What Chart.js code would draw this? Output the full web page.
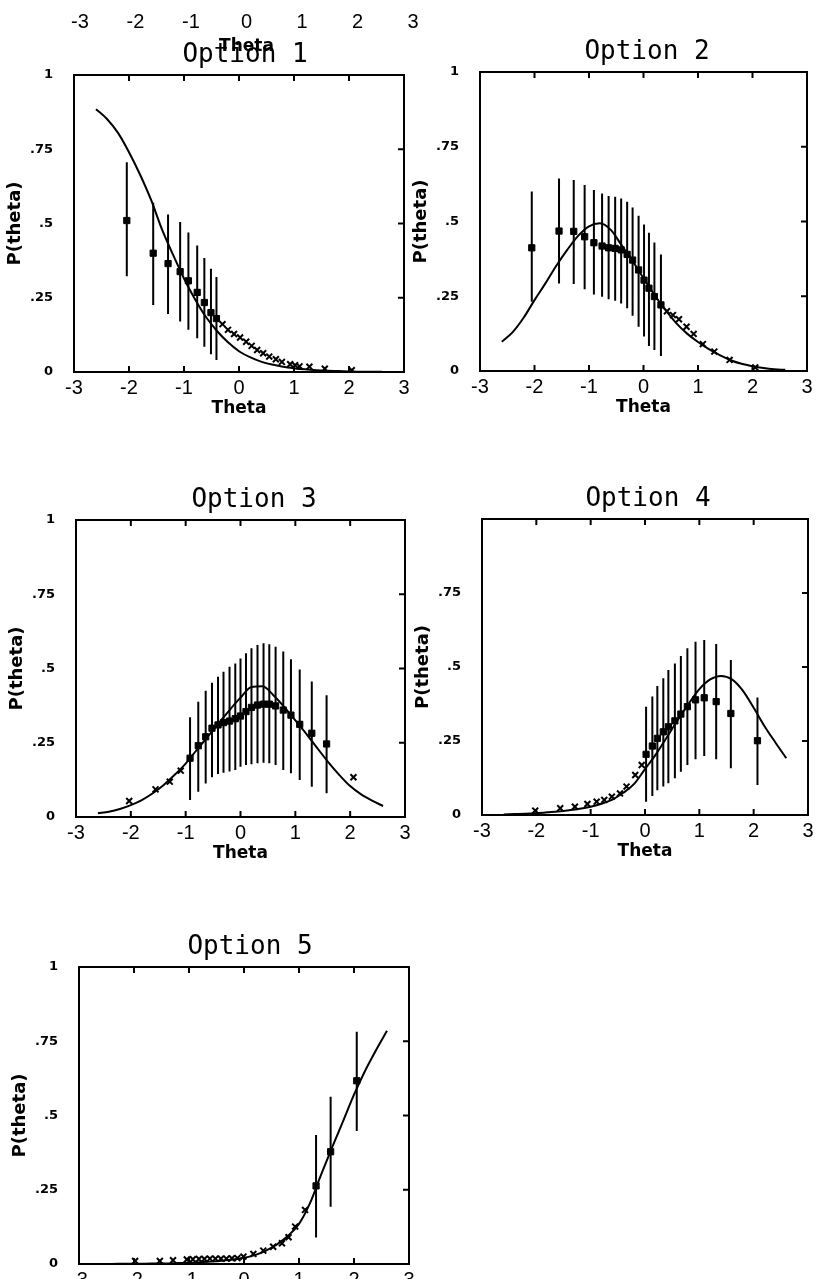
<!DOCTYPE html>
<html>
<head>
<meta charset="utf-8">
<script src="https://cdn.jsdelivr.net/npm/chart.js@4.4.1/dist/chart.umd.min.js"></script>
<style>
  html, body { margin: 0; padding: 0; background: #fff; }
  body { position: relative; width: 819px; height: 1279px; overflow: hidden; }
  canvas { position: absolute; }
</style>
</head>
<body>
<script>
// --- data ---
const thetaGrid = [-2.6, -2.4, -2.2, -2.0, -1.8, -1.6, -1.4, -1.2, -1.0, -0.8, -0.6, -0.4, -0.2, 0,
                   0.2, 0.4, 0.6, 0.8, 1.0, 1.2, 1.4, 1.6, 1.8, 2.0, 2.2, 2.4, 2.6];
const xTickValues = [-3, -2, -1, 0, 1, 2, 3];
const yTickValues = [0, 0.25, 0.5, 0.75, 1];
const yTickLabels = ['0', '.25', '.5', '.75', '1'];
const yTickLabelsNoTop = ['0', '.25', '.5', '.75', ''];

// Option 1
const curve1 = [0.885, 0.852, 0.805, 0.74, 0.665, 0.58, 0.48, 0.395, 0.315, 0.245, 0.185, 0.138, 0.1, 0.07,
                0.05, 0.035, 0.025, 0.018, 0.013, 0.009, 0.006, 0.004, 0.003, 0.002, 0.001, 0.001, 0.001];
const bar1Theta = [-2.04, -1.56, -1.29, -1.07, -0.92, -0.76, -0.63, -0.51, -0.41];
const bar1P  = [0.51, 0.40, 0.365, 0.338, 0.307, 0.268, 0.234, 0.20, 0.18];
const bar1Lo = [0.322, 0.226, 0.195, 0.17, 0.142, 0.114, 0.085, 0.06, 0.04];
const bar1Hi = [0.706, 0.57, 0.53, 0.505, 0.47, 0.426, 0.384, 0.348, 0.32];
const dot1Theta = [-0.30, -0.20, -0.09, 0.02, 0.13, 0.23, 0.33, 0.44, 0.55, 0.67, 0.78, 0.93, 1.02, 1.10, 1.28, 1.56, 2.05];
const dot1P = [0.161, 0.142, 0.128, 0.116, 0.102, 0.088, 0.074, 0.063, 0.052, 0.043, 0.034, 0.026, 0.023, 0.019, 0.018, 0.011, 0.006];

// Option 2
const curve2 = [0.098, 0.13, 0.178, 0.237, 0.293, 0.352, 0.405, 0.452, 0.484, 0.494, 0.472, 0.42, 0.368, 0.31,
                0.255, 0.205, 0.16, 0.125, 0.097, 0.073, 0.053, 0.036, 0.024, 0.016, 0.01, 0.006, 0.004];
const bar2Theta = [-2.05, -1.55, -1.28, -1.08, -0.91, -0.76, -0.64, -0.52, -0.41, -0.30, -0.20, -0.09, 0.01, 0.10, 0.20, 0.32];
const bar2P  = [0.412, 0.468, 0.467, 0.449, 0.429, 0.418, 0.412, 0.41, 0.405, 0.39, 0.371, 0.338, 0.304, 0.277, 0.249, 0.221];
const bar2Lo = [0.232, 0.293, 0.291, 0.273, 0.256, 0.248, 0.24, 0.235, 0.226, 0.21, 0.185, 0.148, 0.115, 0.084, 0.07, 0.05];
const bar2Hi = [0.60, 0.644, 0.639, 0.622, 0.605, 0.594, 0.585, 0.583, 0.577, 0.566, 0.547, 0.519, 0.49, 0.462, 0.43, 0.39];
const dot2Theta = [0.43, 0.54, 0.65, 0.79, 0.92, 1.09, 1.30, 1.58, 2.05];
const dot2P = [0.20, 0.187, 0.173, 0.148, 0.124, 0.09, 0.065, 0.037, 0.012];

// Option 3
const curve3 = [0.013, 0.018, 0.027, 0.04, 0.057, 0.08, 0.108, 0.142, 0.18, 0.225, 0.27, 0.315, 0.36, 0.402,
                0.438, 0.44, 0.41, 0.37, 0.325, 0.28, 0.232, 0.185, 0.142, 0.104, 0.076, 0.055, 0.037];
const bar3Theta = [-0.92, -0.77, -0.635, -0.52, -0.41, -0.31, -0.20, -0.095, 0.0, 0.10, 0.20, 0.31, 0.42, 0.525,
                   0.64, 0.78, 0.92, 1.08, 1.30, 1.57];
const bar3P  = [0.198, 0.24, 0.27, 0.299, 0.31, 0.318, 0.323, 0.331, 0.34, 0.355, 0.369, 0.377, 0.38, 0.38,
                0.374, 0.36, 0.343, 0.312, 0.282, 0.246];
const bar3Lo = [0.057, 0.085, 0.113, 0.134, 0.145, 0.149, 0.153, 0.158, 0.169, 0.175, 0.178, 0.181, 0.183, 0.181,
                0.175, 0.158, 0.147, 0.125, 0.102, 0.08];
const bar3Hi = [0.336, 0.388, 0.425, 0.452, 0.472, 0.489, 0.506, 0.517, 0.534, 0.551, 0.568, 0.579, 0.585, 0.582,
                0.573, 0.557, 0.531, 0.497, 0.456, 0.41];
const dot3Theta = [-2.03, -1.55, -1.29, -1.09, 2.06];
const dot3P = [0.054, 0.093, 0.119, 0.156, 0.134];

// Option 4
const curve4 = [0.002, 0.003, 0.004, 0.006, 0.009, 0.012, 0.016, 0.021, 0.028, 0.038, 0.052, 0.075, 0.105, 0.155,
                0.205, 0.262, 0.32, 0.375, 0.425, 0.458, 0.47, 0.458, 0.42, 0.362, 0.30, 0.245, 0.192];
const bar4Theta = [0.02, 0.135, 0.227, 0.337, 0.43, 0.55, 0.66, 0.78, 0.93, 1.09, 1.31, 1.58, 2.07];
const bar4P  = [0.205, 0.233, 0.259, 0.281, 0.298, 0.318, 0.341, 0.366, 0.389, 0.396, 0.383, 0.343, 0.251];
const bar4Lo = [0.045, 0.064, 0.084, 0.096, 0.107, 0.124, 0.146, 0.169, 0.188, 0.199, 0.188, 0.158, 0.101];
const bar4Hi = [0.366, 0.40, 0.436, 0.462, 0.49, 0.512, 0.537, 0.563, 0.585, 0.591, 0.578, 0.524, 0.397];
const dot4Theta = [-2.02, -1.56, -1.29, -1.06, -0.89, -0.75, -0.61, -0.46, -0.34, -0.18, -0.06];
const dot4P = [0.015, 0.023, 0.028, 0.037, 0.045, 0.051, 0.062, 0.073, 0.096, 0.135, 0.169];

// Option 5
const curve5 = [0.0, 0.0, 0.001, 0.001, 0.001, 0.002, 0.002, 0.003, 0.004, 0.006, 0.008, 0.011, 0.015, 0.021,
                0.03, 0.045, 0.066, 0.095, 0.135, 0.205, 0.30, 0.392, 0.48, 0.57, 0.65, 0.72, 0.785];
const bar5Theta = [1.31, 1.575, 2.05];
const bar5P  = [0.263, 0.378, 0.617];
const bar5Lo = [0.089, 0.193, 0.448];
const bar5Hi = [0.434, 0.563, 0.782];
const dot5Theta = [-1.98, -1.53, -1.29, -1.04, -0.93, -0.82, -0.72, -0.62, -0.52, -0.42, -0.32, -0.22, -0.12,
                   -0.01, 0.17, 0.35, 0.53, 0.69, 0.81, 0.93, 1.11];
const dot5P = [0.01, 0.01, 0.013, 0.015, 0.016, 0.017, 0.017, 0.018, 0.018, 0.018, 0.018, 0.019, 0.02,
               0.025, 0.034, 0.045, 0.058, 0.07, 0.09, 0.126, 0.182];

// --- layout (plot box left, top, right, bottom; title centre) ---
const panels = [
  { title: 'Option 1', box: [74, 75, 404, 372],   titleX: 245, yLabels: yTickLabels,
    curve: curve1, bx: bar1Theta, by: bar1P, lo: bar1Lo, hi: bar1Hi, dx: dot1Theta, dy: dot1P },
  { title: 'Option 2', box: [480, 72, 807, 371],  titleX: 647, yLabels: yTickLabels,
    curve: curve2, bx: bar2Theta, by: bar2P, lo: bar2Lo, hi: bar2Hi, dx: dot2Theta, dy: dot2P },
  { title: 'Option 3', box: [76, 520, 405, 817],  titleX: 254, yLabels: yTickLabels,
    curve: curve3, bx: bar3Theta, by: bar3P, lo: bar3Lo, hi: bar3Hi, dx: dot3Theta, dy: dot3P },
  { title: 'Option 4', box: [482, 519, 808, 815], titleX: 648, yLabels: yTickLabelsNoTop,
    curve: curve4, bx: bar4Theta, by: bar4P, lo: bar4Lo, hi: bar4Hi, dx: dot4Theta, dy: dot4P },
  { title: 'Option 5', box: [79, 967, 409, 1264], titleX: 250, yLabels: yTickLabels,
    curve: curve5, bx: bar5Theta, by: bar5P, lo: bar5Lo, hi: bar5Hi, dx: dot5Theta, dy: dot5P }
];

const LEFT_W = 70, TOP_H = 33, BOTTOM_H = 48;
const tickFont = { family: 'Liberation Sans', size: 20 };
const axisTitleFont = { family: 'DejaVu Sans', size: 17, weight: 'bold' };

// frame with short inward tick marks
const frameTicks = {
  id: 'frameTicks',
  afterDraw(chart) {
    const { ctx, chartArea: a, scales } = chart;
    ctx.save();
    ctx.strokeStyle = '#000';
    ctx.lineWidth = 2;
    ctx.strokeRect(a.left, a.top, a.right - a.left, a.bottom - a.top);
    ctx.beginPath();
    xTickValues.slice(1, -1).forEach(v => {
      const px = scales.x.getPixelForValue(v);
      ctx.moveTo(px, a.top); ctx.lineTo(px, a.top + 6);
      ctx.moveTo(px, a.bottom); ctx.lineTo(px, a.bottom - 6);
    });
    yTickValues.slice(1, -1).forEach(v => {
      const py = scales.y.getPixelForValue(v);
      ctx.moveTo(a.right, py); ctx.lineTo(a.right - 6, py);
    });
    ctx.stroke();
    ctx.restore();
  }
};

function pts(xs, ys) {
  return xs.map((t, i) => ({ x: t, y: ys[i] }));
}

// vertical error segments, separated by gaps
function errorSegments(xs, lo, hi) {
  const out = [];
  xs.forEach((t, i) => { out.push({ x: t, y: lo[i] }, { x: t, y: hi[i] }, { x: t, y: null }); });
  return out;
}

function xScale(height, padding) {
  return {
    type: 'linear', min: -3, max: 3,
    afterBuildTicks: s => { s.ticks = xTickValues.map(v => ({ value: v })); },
    afterFit: s => { s.height = height; },
    grid: { display: false, drawTicks: false, tickLength: 0 },
    border: { display: false },
    ticks: { padding: padding, font: tickFont, color: '#000', maxRotation: 0, autoSkip: false,
             callback: v => String(v) },
    title: { display: true, text: 'Theta', font: axisTitleFont, color: '#000', padding: { top: 0, bottom: 1 } }
  };
}

function makePanel(p) {
  const [L, T, R, B] = p.box;
  const cw = 2 * (p.titleX - (L - LEFT_W));
  const rightW = cw - LEFT_W - (R - L);
  const cv = document.createElement('canvas');
  cv.width = cw;
  cv.height = TOP_H + (B - T) + BOTTOM_H;
  cv.style.left = (L - LEFT_W) + 'px';
  cv.style.top = (T - TOP_H) + 'px';
  document.body.appendChild(cv);

  new Chart(cv, {
    type: 'line',
    data: {
      datasets: [
        { data: errorSegments(p.bx, p.lo, p.hi), borderColor: '#000', borderWidth: 2,
          pointRadius: 0, spanGaps: false },
        { data: pts(p.bx, p.by), showLine: false, pointStyle: 'rect', pointRadius: 4.4,
          backgroundColor: '#000', borderColor: '#000', borderWidth: 1 },
        { data: pts(p.dx, p.dy), showLine: false, pointStyle: 'crossRot', pointRadius: 4.2,
          borderColor: '#000', borderWidth: 2 },
        { data: pts(thetaGrid, p.curve), borderColor: '#000', borderWidth: 2, pointRadius: 0,
          cubicInterpolationMode: 'monotone' }
      ]
    },
    options: {
      responsive: false,
      animation: false,
      events: [],
      layout: { padding: 0 },
      plugins: {
        legend: { display: false },
        tooltip: { enabled: false },
        title: { display: true, text: p.title, color: '#000',
                 font: { family: 'DejaVu Sans Mono', size: 26, weight: 'normal', lineHeight: 1 },
                 padding: { top: 0, bottom: 7 } }
      },
      scales: {
        x: xScale(BOTTOM_H, 4),
        y: {
          min: 0, max: 1,
          afterBuildTicks: s => { s.ticks = yTickValues.map(v => ({ value: v })); },
          afterFit: s => { s.width = LEFT_W; },
          grid: { display: false, drawTicks: false, tickLength: 0 },
          border: { display: false },
          ticks: { padding: 21, color: '#000', font: { family: 'DejaVu Sans', size: 13, weight: 'bold' },
                   callback: v => p.yLabels[yTickValues.indexOf(v)] },
          title: { display: true, text: 'P(theta)', color: '#000',
                   font: { family: 'DejaVu Sans', size: 18, weight: 'bold' }, padding: { top: 1, bottom: 0 } }
        },
        // empty right axis: keeps the title centred where the original had it
        yR: {
          position: 'right', min: 0, max: 1,
          afterFit: s => { s.width = rightW; },
          grid: { display: false, drawTicks: false },
          border: { display: false },
          ticks: { display: false }
        }
      }
    },
    plugins: [frameTicks]
  });
}

// stray axis of a panel cut off above the page
function makeTopStrip() {
  const cv = document.createElement('canvas');
  cv.width = 333 + 40;
  cv.height = 68;
  cv.style.left = (80 - 20) + 'px';
  cv.style.top = '-10px';
  document.body.appendChild(cv);
  new Chart(cv, {
    type: 'line',
    data: { datasets: [] },
    options: {
      responsive: false,
      animation: false,
      events: [],
      layout: { padding: { left: 20, right: 20 } },
      plugins: { legend: { display: false }, tooltip: { enabled: false } },
      scales: {
        x: xScale(58, 10),
        y: { display: false, min: 0, max: 1 }
      }
    }
  });
}

makeTopStrip();
panels.forEach(makePanel);
</script>
</body>
</html>
